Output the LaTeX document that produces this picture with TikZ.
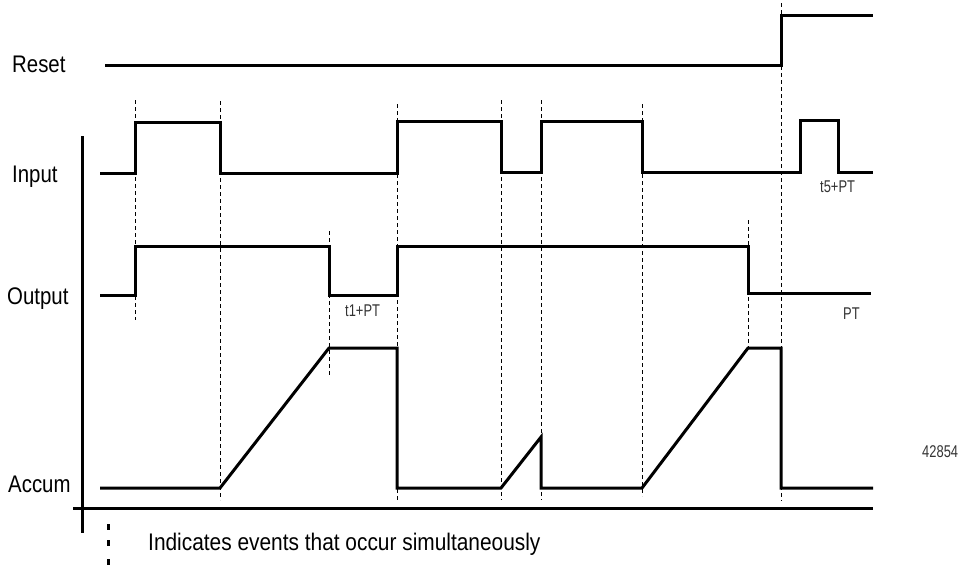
\documentclass[tikz,border=0pt]{standalone}
\usepackage{fontspec}
\setmainfont{Liberation Sans}
\newfontfamily\labfont[FakeStretch=0.85]{Liberation Sans}
\newfontfamily\legfont[FakeStretch=0.87]{Liberation Sans}
\newfontfamily\smallfont[FakeStretch=0.76]{Liberation Sans}
\begin{document}
\begin{tikzpicture}[x=1pt,y=-1pt,
  sig/.style={line width=3pt,line join=miter,line cap=butt},
  axis/.style={line width=3pt},
  evt/.style={line width=1pt,dash pattern=on 4pt off 3pt},
  lab/.style={anchor=base west,inner sep=0pt,font=\labfont\fontsize{24}{28}\selectfont},
  small/.style={anchor=base west,inner sep=0pt,text=black!80,font=\smallfont\fontsize{17}{20}\selectfont}]
\useasboundingbox (0,0) rectangle (963,566);
% event lines
\foreach \x/\a/\b in {135/100/320, 220/101/500, 329/231/377, 397/104/501, 501/100/500, 541/100/500, 642/104/496, 748/220/347, 781/3/501}
  \draw[evt] (\x,\a) -- (\x,\b);
% axes
\draw[axis] (82,136) -- (82,533);
\draw[axis] (73,508) -- (873,508);
% Reset
\draw[sig] (105,65) -- (781,65) -- (781,15) -- (873,15);
% Input
\draw[sig] (100,173) -- (135,173) -- (135,122) -- (220,122) -- (220,173) -- (397,173) -- (397,121) -- (501,121) -- (501,172) -- (541,172) -- (541,121) -- (642,121) -- (642,172) -- (800,172) -- (800,120) -- (838,120) -- (838,172) -- (873,172);
% Output
\draw[sig] (100,295) -- (135,295) -- (135,246) -- (329,246) -- (329,295) -- (397,295) -- (397,246) -- (748,246) -- (748,293) -- (871,293);
% Accum
\draw[sig] (100,488) -- (220,488) -- (329,348) -- (397,348) -- (397,488) -- (501,488) -- (541,437) -- (541,488) -- (642,488) -- (748,348) -- (781,348) -- (781,488) -- (873,488);
% labels
\node[lab] (reset) at (12,72) {Reset};
\node[lab] (input) at (12,182) {Input};
\node[lab] (output) at (7,304) {Output};
\node[lab] (accum) at (8,492) {Accum};
\node[small] (t1) at (345,316) {t1+PT};
\node[small] (t5) at (820,192) {t5+PT};
\node[small] (pt) at (843,319) {PT};
\node[small] (fig) at (922,457) {42854};
% legend
\foreach \a/\b in {524/530, 540/546, 559/565}
  \draw[line width=3pt] (108,\a) -- (108,\b);
\node[lab,font=\legfont\fontsize{24}{28}\selectfont] (legend) at (148,550) {Indicates events that occur simultaneously};
\end{tikzpicture}
\end{document}
